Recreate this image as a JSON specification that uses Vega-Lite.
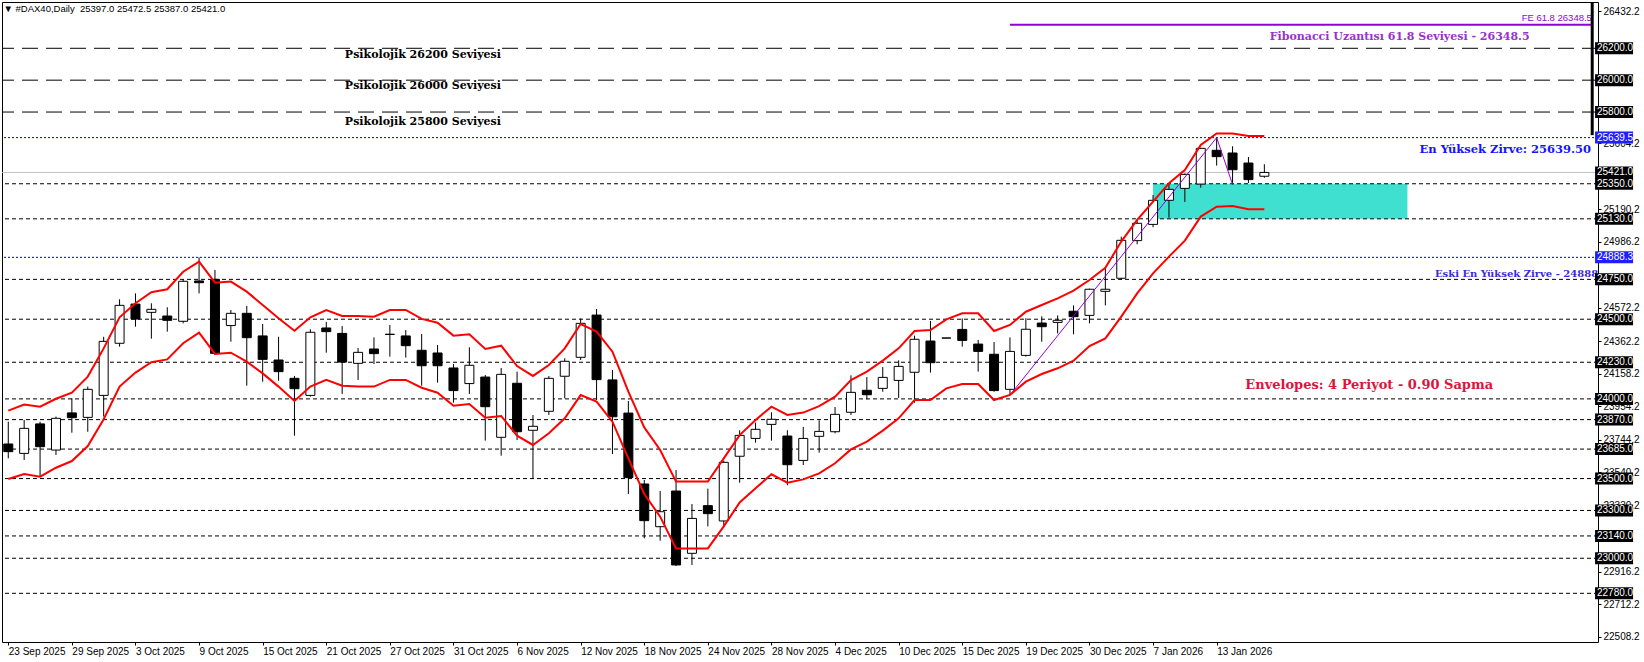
{
"$schema": "https://vega.github.io/schema/vega-lite/v6.json",
"width": 1596, "height": 640,
"autosize": {"type": "none"},
"padding": {"left": 2, "top": 2, "right": 46, "bottom": 20},
"background": "white",
"config": {"view": {"stroke": "black", "strokeWidth": 1}, "axis": {"grid": false}},
"datasets": {
"candles": [
{"k":0,"o":23717,"h":23857,"l":23627,"c":23669,"up":23926,"lo":23497},
{"k":1,"o":23658,"h":23868,"l":23617,"c":23815,"up":23964,"lo":23529},
{"k":2,"o":23843,"h":23857,"l":23508,"c":23700,"up":23951,"lo":23512},
{"k":3,"o":23679,"h":23889,"l":23648,"c":23878,"up":24001,"lo":23568},
{"k":4,"o":23912,"h":24004,"l":23788,"c":23882,"up":24039,"lo":23610},
{"k":5,"o":23884,"h":24077,"l":23794,"c":24060,"up":24140,"lo":23704},
{"k":6,"o":24022,"h":24390,"l":23889,"c":24361,"up":24317,"lo":23872},
{"k":7,"o":24349,"h":24625,"l":24328,"c":24587,"up":24512,"lo":24077},
{"k":8,"o":24595,"h":24662,"l":24453,"c":24501,"up":24600,"lo":24165},
{"k":9,"o":24543,"h":24600,"l":24378,"c":24562,"up":24669,"lo":24230},
{"k":10,"o":24520,"h":24575,"l":24422,"c":24493,"up":24688,"lo":24248},
{"k":11,"o":24487,"h":24750,"l":24474,"c":24738,"up":24798,"lo":24349},
{"k":12,"o":24740,"h":24888.3,"l":24662,"c":24729,"up":24861,"lo":24416},
{"k":13,"o":24750,"h":24809,"l":24275,"c":24286,"up":24729,"lo":24282},
{"k":14,"o":24460,"h":24558,"l":24359,"c":24537,"up":24736,"lo":24290},
{"k":15,"o":24537,"h":24583,"l":24083,"c":24384,"up":24673,"lo":24234},
{"k":16,"o":24395,"h":24470,"l":24108,"c":24248,"up":24589,"lo":24160},
{"k":17,"o":24244,"h":24390,"l":24114,"c":24171,"up":24506,"lo":24077},
{"k":18,"o":24129,"h":24144,"l":23769,"c":24064,"up":24428,"lo":23987},
{"k":19,"o":24022,"h":24437,"l":24014,"c":24418,"up":24512,"lo":24077},
{"k":20,"o":24445,"h":24483,"l":24290,"c":24422,"up":24558,"lo":24119},
{"k":21,"o":24411,"h":24457,"l":24031,"c":24231,"up":24520,"lo":24083},
{"k":22,"o":24223,"h":24319,"l":24119,"c":24292,"up":24520,"lo":24077},
{"k":23,"o":24313,"h":24386,"l":24219,"c":24284,"up":24516,"lo":24077},
{"k":24,"o":24404,"h":24464,"l":24265,"c":24406,"up":24558,"lo":24119},
{"k":25,"o":24395,"h":24432,"l":24259,"c":24334,"up":24558,"lo":24119},
{"k":26,"o":24305,"h":24407,"l":24083,"c":24208,"up":24502,"lo":24070},
{"k":27,"o":24288,"h":24338,"l":24102,"c":24208,"up":24478,"lo":24039},
{"k":28,"o":24194,"h":24219,"l":23976,"c":24052,"up":24397,"lo":23957},
{"k":29,"o":24096,"h":24324,"l":24031,"c":24211,"up":24405,"lo":23968},
{"k":30,"o":24137,"h":24150,"l":23738,"c":23951,"up":24313,"lo":23882},
{"k":31,"o":23759,"h":24194,"l":23644,"c":24154,"up":24334,"lo":23893},
{"k":32,"o":24098,"h":24171,"l":23742,"c":23794,"up":24206,"lo":23769},
{"k":33,"o":23803,"h":23899,"l":23501,"c":23828,"up":24144,"lo":23711},
{"k":34,"o":23922,"h":24144,"l":23899,"c":24129,"up":24213,"lo":23784},
{"k":35,"o":24142,"h":24255,"l":24003,"c":24236,"up":24317,"lo":23878},
{"k":36,"o":24261,"h":24505,"l":24244,"c":24474,"up":24470,"lo":24024},
{"k":37,"o":24526,"h":24564,"l":23993,"c":24121,"up":24422,"lo":23983},
{"k":38,"o":24119,"h":24181,"l":23654,"c":23888,"up":24296,"lo":23857},
{"k":39,"o":23911,"h":23987,"l":23403,"c":23506,"up":24045,"lo":23627},
{"k":40,"o":23466,"h":23491,"l":23125,"c":23236,"up":23821,"lo":23403},
{"k":41,"o":23198,"h":23422,"l":23110,"c":23292,"up":23679,"lo":23261},
{"k":42,"o":23422,"h":23554,"l":22951,"c":22958,"up":23481,"lo":23062},
{"k":43,"o":23031,"h":23340,"l":22958,"c":23250,"up":23481,"lo":23062},
{"k":44,"o":23330,"h":23437,"l":23200,"c":23280,"up":23481,"lo":23062},
{"k":45,"o":23234,"h":23612,"l":23195,"c":23602,"up":23627,"lo":23200},
{"k":46,"o":23640,"h":23803,"l":23474,"c":23771,"up":23773,"lo":23350},
{"k":47,"o":23752,"h":23851,"l":23725,"c":23809,"up":23868,"lo":23439},
{"k":48,"o":23840,"h":23916,"l":23738,"c":23872,"up":23951,"lo":23527},
{"k":49,"o":23767,"h":23803,"l":23458,"c":23587,"up":23899,"lo":23474},
{"k":50,"o":23614,"h":23824,"l":23585,"c":23752,"up":23914,"lo":23495},
{"k":51,"o":23765,"h":23865,"l":23663,"c":23796,"up":23955,"lo":23533},
{"k":52,"o":23794,"h":23949,"l":23784,"c":23903,"up":24014,"lo":23596},
{"k":53,"o":23916,"h":24148,"l":23899,"c":24041,"up":24118,"lo":23683},
{"k":54,"o":24054,"h":24137,"l":23997,"c":24026,"up":24171,"lo":23732},
{"k":55,"o":24066,"h":24200,"l":24045,"c":24135,"up":24240,"lo":23801},
{"k":56,"o":24116,"h":24242,"l":24006,"c":24204,"up":24317,"lo":23878},
{"k":57,"o":24167,"h":24397,"l":23976,"c":24374,"up":24426,"lo":23993},
{"k":58,"o":24363,"h":24489,"l":24165,"c":24227,"up":24432,"lo":23993},
{"k":59,"o":24382,"h":24383,"l":24381,"c":24382,"up":24499,"lo":24066},
{"k":60,"o":24436,"h":24505,"l":24328,"c":24367,"up":24537,"lo":24093},
{"k":61,"o":24344,"h":24370,"l":24171,"c":24298,"up":24537,"lo":24093},
{"k":62,"o":24280,"h":24357,"l":24045,"c":24052,"up":24426,"lo":23993},
{"k":63,"o":24060,"h":24386,"l":24024,"c":24298,"up":24464,"lo":24025},
{"k":64,"o":24273,"h":24506,"l":24265,"c":24437,"up":24547,"lo":24108},
{"k":65,"o":24476,"h":24518,"l":24359,"c":24453,"up":24589,"lo":24156},
{"k":66,"o":24480,"h":24524,"l":24411,"c":24493,"up":24631,"lo":24192},
{"k":67,"o":24550,"h":24587,"l":24405,"c":24516,"up":24679,"lo":24240},
{"k":68,"o":24524,"h":24692,"l":24474,"c":24688,"up":24746,"lo":24332},
{"k":69,"o":24675,"h":24826,"l":24587,"c":24688,"up":24823,"lo":24380},
{"k":70,"o":24757,"h":25018,"l":24746,"c":24995,"up":24987,"lo":24516},
{"k":71,"o":24993,"h":25127,"l":24970,"c":25102,"up":25123,"lo":24662},
{"k":72,"o":25095,"h":25279,"l":25077,"c":25246,"up":25238,"lo":24788},
{"k":73,"o":25246,"h":25353,"l":25137,"c":25315,"up":25353,"lo":24893},
{"k":74,"o":25321,"h":25415,"l":25236,"c":25409,"up":25436,"lo":24993},
{"k":75,"o":25348,"h":25576,"l":25325,"c":25572,"up":25593,"lo":25144},
{"k":76,"o":25560,"h":25639.5,"l":25464,"c":25520,"up":25666,"lo":25206},
{"k":77,"o":25543,"h":25585,"l":25346,"c":25438,"up":25666,"lo":25210},
{"k":78,"o":25480,"h":25518,"l":25355,"c":25376,"up":25650,"lo":25190},
{"k":79,"o":25397,"h":25472.5,"l":25387,"c":25421,"up":25650,"lo":25190}
],
"longdash": [{"p":26200},{"p":26000},{"p":25800}],
"shortdash": [{"p":25350},{"p":25130},{"p":24750},{"p":24500},{"p":24230},{"p":24000},{"p":23870},{"p":23685},{"p":23500},{"p":23300},{"p":23140},{"p":23000},{"p":22780}],
"bluedot": [{"p":25639.5},{"p":24888.3}],
"graysolid": [{"p":25421}],
"zone": [{"k":72,"k2":88,"p":25350,"p2":25130}],
"fibline": [{"k":63,"k2":99.67,"p":26348.5}],
"zigzag": [{"k":63,"p":24024},{"k":76,"p":25639.5},{"k":77,"p":25346}],
"blackbox": [{"p":26200,"t":"26200.0"},{"p":26000,"t":"26000.0"},{"p":25800,"t":"25800.0"},{"p":25421,"t":"25421.0"},{"p":25350,"t":"25350.0"},{"p":25130,"t":"25130.0"},{"p":24750,"t":"24750.0"},{"p":24500,"t":"24500.0"},{"p":24230,"t":"24230.0"},{"p":24000,"t":"24000.0"},{"p":23870,"t":"23870.0"},{"p":23685,"t":"23685.0"},{"p":23500,"t":"23500.0"},{"p":23300,"t":"23300.0"},{"p":23140,"t":"23140.0"},{"p":23000,"t":"23000.0"},{"p":22780,"t":"22780.0"}],
"bluebox": [{"p":25639.5,"t":"25639.5"},{"p":24888.3,"t":"24888.3"}],
"scalebar": [{"k":99.62,"p":26490.5,"p2":25655}]
},
"layer": [
{"data": {"name": "zone"}, "mark": {"type": "rect", "fill": "#40e0d0"},
 "encoding": {"x": {"field": "k", "type": "quantitative", "scale": {"domain": [-0.08, 99.67], "nice": false, "zero": false},
   "axis": {"orient": "bottom", "values": [0,4,8,12,16,20,24,28,32,36,40,44,48,52,56,60,64,68,72,76],
    "labelExpr": "['23 Sep 2025','29 Sep 2025','3 Oct 2025','9 Oct 2025','15 Oct 2025','21 Oct 2025','27 Oct 2025','31 Oct 2025','6 Nov 2025','12 Nov 2025','18 Nov 2025','24 Nov 2025','28 Nov 2025','4 Dec 2025','10 Dec 2025','15 Dec 2025','19 Dec 2025','30 Dec 2025','7 Jan 2026','13 Jan 2026'][round(datum.value/4)]",
    "labelAlign": "left", "labelFlush": false, "labelOverlap": false, "labelFont": "Liberation Sans", "labelFontSize": 10, "labelColor": "black",
    "tickColor": "black", "tickSize": 3, "labelPadding": 1, "domain": false, "title": null, "grid": false, "zindex": 1}},
  "x2": {"field": "k2"},
  "y": {"field": "p", "type": "quantitative", "scale": {"domain": [22474.5, 26490.5], "nice": false, "zero": false},
   "axis": {"orient": "right", "values": [26432.2, 25604.2, 25190.2, 24986.2, 24572.2, 24362.2, 24158.2, 23954.2, 23744.2, 23540.2, 23330.2, 22916.2, 22712.2, 22508.2],
    "format": ".1f", "labelFont": "Liberation Sans", "labelFontSize": 10, "labelColor": "black", "tickColor": "black", "tickSize": 3, "labelPadding": 2,
    "domain": false, "title": null, "grid": false, "labelOverlap": false, "labelFlush": false, "zindex": 0}},
  "y2": {"field": "p2"}}},
{"data": {"name": "longdash"}, "mark": {"type": "rule", "stroke": "black", "strokeWidth": 1, "strokeDash": [16, 8]},
 "encoding": {"y": {"field": "p", "type": "quantitative", "scale": {"domain": [22474.5, 26490.5], "nice": false, "zero": false}}}},
{"data": {"name": "shortdash"}, "mark": {"type": "rule", "stroke": "black", "strokeWidth": 1, "strokeDash": [4, 3]},
 "encoding": {"y": {"field": "p", "type": "quantitative", "scale": {"domain": [22474.5, 26490.5], "nice": false, "zero": false}}}},
{"data": {"name": "bluedot"}, "mark": {"type": "rule", "stroke": "#0000cc", "strokeWidth": 1, "strokeDash": [2, 2]},
 "encoding": {"y": {"field": "p", "type": "quantitative", "scale": {"domain": [22474.5, 26490.5], "nice": false, "zero": false}}}},
{"data": {"name": "graysolid"}, "mark": {"type": "rule", "stroke": "#c0c0c0", "strokeWidth": 1},
 "encoding": {"y": {"field": "p", "type": "quantitative", "scale": {"domain": [22474.5, 26490.5], "nice": false, "zero": false}}}},
{"data": {"name": "fibline"}, "mark": {"type": "rule", "stroke": "#9400d3", "strokeWidth": 2},
 "encoding": {"x": {"field": "k", "type": "quantitative", "scale": {"domain": [-0.08, 99.67], "nice": false, "zero": false}}, "x2": {"field": "k2"},
  "y": {"field": "p", "type": "quantitative", "scale": {"domain": [22474.5, 26490.5], "nice": false, "zero": false}}}},
{"data": {"name": "candles"}, "mark": {"type": "rule", "stroke": "black", "strokeWidth": 1, "clip": true},
 "encoding": {"x": {"field": "k", "type": "quantitative", "scale": {"domain": [-0.08, 99.67], "nice": false, "zero": false}},
  "y": {"field": "l", "type": "quantitative", "scale": {"domain": [22474.5, 26490.5], "nice": false, "zero": false}},
  "y2": {"field": "h"}}},
{"data": {"name": "candles"}, "mark": {"type": "bar", "width": 9, "stroke": "black", "strokeWidth": 1, "clip": true},
 "encoding": {"x": {"field": "k", "type": "quantitative", "scale": {"domain": [-0.08, 99.67], "nice": false, "zero": false}},
  "y": {"field": "o", "type": "quantitative", "scale": {"domain": [22474.5, 26490.5], "nice": false, "zero": false}}, "y2": {"field": "c"},
  "fill": {"condition": {"test": "datum.c >= datum.o", "value": "white"}, "value": "black"}}},
{"data": {"name": "zigzag"}, "mark": {"type": "line", "stroke": "#9400d3", "strokeWidth": 1},
 "encoding": {"x": {"field": "k", "type": "quantitative", "scale": {"domain": [-0.08, 99.67], "nice": false, "zero": false}},
  "y": {"field": "p", "type": "quantitative", "scale": {"domain": [22474.5, 26490.5], "nice": false, "zero": false}}}},
{"data": {"name": "candles"}, "mark": {"type": "line", "stroke": "#ff0000", "strokeWidth": 2, "clip": true},
 "encoding": {"x": {"field": "k", "type": "quantitative", "scale": {"domain": [-0.08, 99.67], "nice": false, "zero": false}},
  "y": {"field": "up", "type": "quantitative", "scale": {"domain": [22474.5, 26490.5], "nice": false, "zero": false}}}},
{"data": {"name": "candles"}, "mark": {"type": "line", "stroke": "#ff0000", "strokeWidth": 2, "clip": true},
 "encoding": {"x": {"field": "k", "type": "quantitative", "scale": {"domain": [-0.08, 99.67], "nice": false, "zero": false}},
  "y": {"field": "lo", "type": "quantitative", "scale": {"domain": [22474.5, 26490.5], "nice": false, "zero": false}}}},
{"data": {"values": [{"k":21.17,"p":26161,"t":"Psikolojik 26200 Seviyesi"},{"k":21.17,"p":25963,"t":"Psikolojik 26000 Seviyesi"},{"k":21.17,"p":25735,"t":"Psikolojik 25800 Seviyesi"}]},
 "mark": {"type": "text", "align": "left", "baseline": "middle", "font": "DejaVu Serif", "fontWeight": "bold", "fontSize": 11, "fill": "black"},
 "encoding": {"x": {"field": "k", "type": "quantitative", "scale": {"domain": [-0.08, 99.67], "nice": false, "zero": false}},
  "y": {"field": "p", "type": "quantitative", "scale": {"domain": [22474.5, 26490.5], "nice": false, "zero": false}}, "text": {"field": "t"}}},
{"data": {"values": [{"k":79.34,"p":26271,"t":"Fibonacci Uzantısı 61.8 Seviyesi - 26348.5"}]},
 "mark": {"type": "text", "align": "left", "baseline": "middle", "font": "DejaVu Serif", "fontWeight": "bold", "fontSize": 11, "fill": "#9932cc"},
 "encoding": {"x": {"field": "k", "type": "quantitative", "scale": {"domain": [-0.08, 99.67], "nice": false, "zero": false}},
  "y": {"field": "p", "type": "quantitative", "scale": {"domain": [22474.5, 26490.5], "nice": false, "zero": false}}, "text": {"field": "t"}}},
{"data": {"values": [{"k":99.6,"p":26388,"t":"FE 61.8 26348.5"}]},
 "mark": {"type": "text", "align": "right", "baseline": "middle", "font": "Liberation Sans", "fontSize": 9.5, "fill": "#9400d3"},
 "encoding": {"x": {"field": "k", "type": "quantitative", "scale": {"domain": [-0.08, 99.67], "nice": false, "zero": false}},
  "y": {"field": "p", "type": "quantitative", "scale": {"domain": [22474.5, 26490.5], "nice": false, "zero": false}}, "text": {"field": "t"}}},
{"data": {"values": [{"k":99.55,"p":25562,"t":"En Yüksek Zirve: 25639.50"}]},
 "mark": {"type": "text", "align": "right", "baseline": "middle", "font": "DejaVu Serif", "fontWeight": "bold", "fontSize": 11.5, "fill": "#1414ff"},
 "encoding": {"x": {"field": "k", "type": "quantitative", "scale": {"domain": [-0.08, 99.67], "nice": false, "zero": false}},
  "y": {"field": "p", "type": "quantitative", "scale": {"domain": [22474.5, 26490.5], "nice": false, "zero": false}}, "text": {"field": "t"}}},
{"data": {"values": [{"k":89.73,"p":24782,"t":"Eski En Yüksek Zirve - 24888.3"}]},
 "mark": {"type": "text", "align": "left", "baseline": "middle", "font": "DejaVu Serif", "fontWeight": "bold", "fontSize": 10, "fill": "#3a2bd8", "clip": true},
 "encoding": {"x": {"field": "k", "type": "quantitative", "scale": {"domain": [-0.08, 99.67], "nice": false, "zero": false}},
  "y": {"field": "p", "type": "quantitative", "scale": {"domain": [22474.5, 26490.5], "nice": false, "zero": false}}, "text": {"field": "t"}}},
{"data": {"values": [{"k":77.8,"p":24088,"t":"Envelopes: 4 Periyot - 0.90 Sapma"}]},
 "mark": {"type": "text", "align": "left", "baseline": "middle", "font": "DejaVu Serif", "fontWeight": "bold", "fontSize": 13, "fill": "#dc143c"},
 "encoding": {"x": {"field": "k", "type": "quantitative", "scale": {"domain": [-0.08, 99.67], "nice": false, "zero": false}},
  "y": {"field": "p", "type": "quantitative", "scale": {"domain": [22474.5, 26490.5], "nice": false, "zero": false}}, "text": {"field": "t"}}},
{"data": {"values": [{"k":-0.3,"p":26444,"t":"▼ #DAX40,Daily \u00a025397.0 25472.5 25387.0 25421.0"}]},
 "mark": {"type": "text", "align": "left", "baseline": "middle", "font": "Liberation Sans", "fontSize": 9.5, "fill": "black"},
 "encoding": {"x": {"field": "k", "type": "quantitative", "scale": {"domain": [-0.08, 99.67], "nice": false, "zero": false}},
  "y": {"field": "p", "type": "quantitative", "scale": {"domain": [22474.5, 26490.5], "nice": false, "zero": false}}, "text": {"field": "t"}}},
{"data": {"name": "scalebar"}, "mark": {"type": "rule", "stroke": "black", "strokeWidth": 3},
 "encoding": {"x": {"field": "k", "type": "quantitative", "scale": {"domain": [-0.08, 99.67], "nice": false, "zero": false}},
  "y": {"field": "p", "type": "quantitative", "scale": {"domain": [22474.5, 26490.5], "nice": false, "zero": false}}, "y2": {"field": "p2"}}},
{"data": {"name": "blackbox"}, "mark": {"type": "point", "shape": "M0,-0.158L1,-0.158L1,0.158L0,0.158Z", "size": 5776, "filled": true, "fill": "black", "opacity": 1, "strokeWidth": 0},
 "encoding": {"x": {"datum": 99.8, "type": "quantitative", "scale": {"domain": [-0.08, 99.67], "nice": false, "zero": false}},
  "y": {"field": "p", "type": "quantitative", "scale": {"domain": [22474.5, 26490.5], "nice": false, "zero": false}}}},
{"data": {"name": "bluebox"}, "mark": {"type": "point", "shape": "M0,-0.158L1,-0.158L1,0.158L0,0.158Z", "size": 5776, "filled": true, "fill": "#1e1eff", "opacity": 1, "strokeWidth": 0},
 "encoding": {"x": {"datum": 99.8, "type": "quantitative", "scale": {"domain": [-0.08, 99.67], "nice": false, "zero": false}},
  "y": {"field": "p", "type": "quantitative", "scale": {"domain": [22474.5, 26490.5], "nice": false, "zero": false}}}},
{"data": {"name": "blackbox"}, "mark": {"type": "text", "align": "left", "baseline": "middle", "font": "Liberation Sans", "fontSize": 10, "fill": "white"},
 "encoding": {"x": {"datum": 99.92, "type": "quantitative", "scale": {"domain": [-0.08, 99.67], "nice": false, "zero": false}},
  "y": {"field": "p", "type": "quantitative", "scale": {"domain": [22474.5, 26490.5], "nice": false, "zero": false}}, "text": {"field": "t"}}},
{"data": {"name": "bluebox"}, "mark": {"type": "text", "align": "left", "baseline": "middle", "font": "Liberation Sans", "fontSize": 10, "fill": "white"},
 "encoding": {"x": {"datum": 99.92, "type": "quantitative", "scale": {"domain": [-0.08, 99.67], "nice": false, "zero": false}},
  "y": {"field": "p", "type": "quantitative", "scale": {"domain": [22474.5, 26490.5], "nice": false, "zero": false}}, "text": {"field": "t"}}}
]
}
